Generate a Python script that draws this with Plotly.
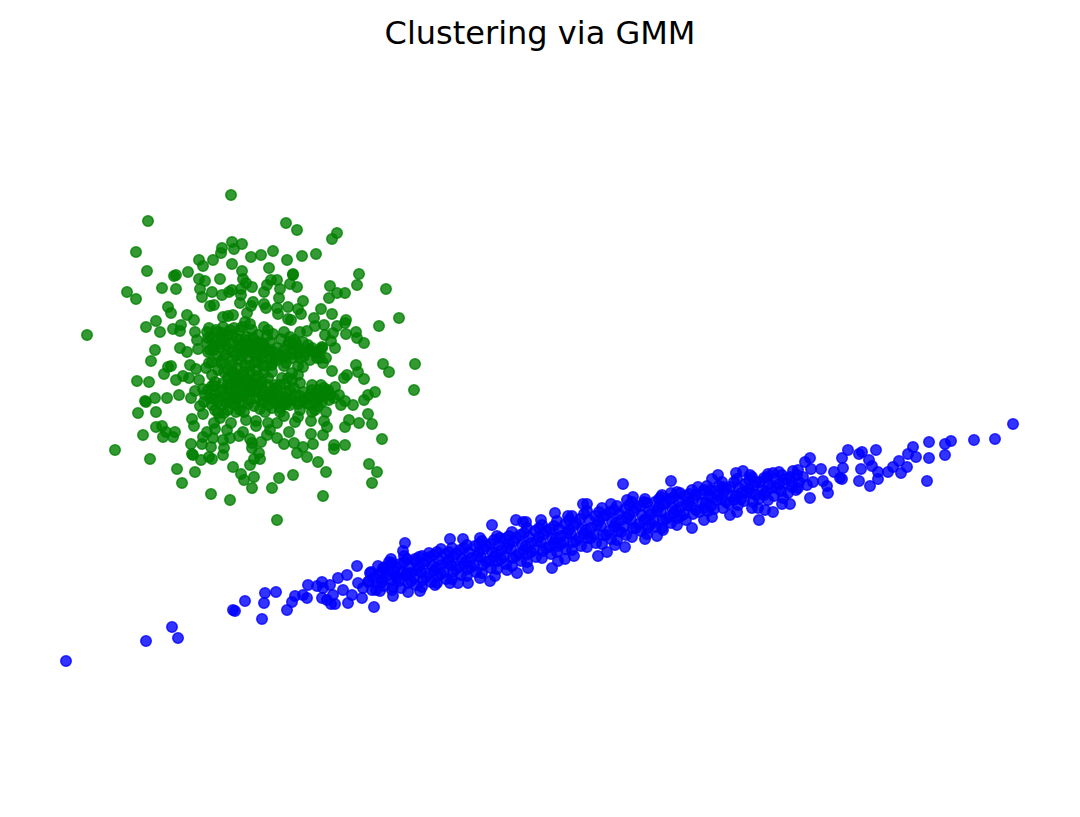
"""
Clustering via GMM: two clusters, values read from the picture.
"""
import plotly.graph_objects as go

green_points = [
    (231, 195), (148, 221), (286, 223), (297, 230), (337, 233), (332, 239), (136, 252), (147, 271),
    (127, 292), (136, 299), (87, 335), (232, 242), (242, 244), (222, 248), (221, 253), (234, 249),
    (199, 260), (203, 266), (213, 260), (232, 264), (251, 257), (261, 255), (273, 251), (287, 260),
    (302, 256), (316, 254), (269, 268), (242, 271), (293, 274), (293, 275), (359, 274), (357, 285),
    (386, 289), (174, 276), (176, 275), (188, 272), (162, 288), (176, 289), (199, 279), (205, 281),
    (220, 279), (200, 289), (202, 297), (212, 292), (222, 295), (229, 292), (232, 290), (241, 289),
    (243, 279), (246, 283), (252, 287), (241, 295), (240, 303), (253, 302), (251, 306), (264, 292),
    (267, 285), (271, 280), (277, 280), (290, 284), (297, 287), (280, 289), (279, 298), (303, 301),
    (330, 286), (329, 298), (337, 293), (345, 293), (210, 306), (214, 305), (264, 304), (266, 308),
    (277, 308), (288, 307), (278, 314), (298, 309), (301, 314), (321, 309), (332, 314), (399, 318),
    (379, 326), (168, 307), (171, 313), (187, 315), (194, 320), (156, 321), (146, 327), (160, 332),
    (173, 329), (181, 325), (180, 331), (195, 332), (197, 340), (198, 349), (180, 348), (187, 352),
    (155, 350), (223, 317), (228, 316), (233, 315), (247, 313), (245, 322), (250, 324), (242, 327),
    (209, 328), (216, 330), (223, 327), (264, 327), (268, 330), (267, 336), (273, 334), (284, 332),
    (281, 339), (288, 319), (291, 320), (314, 318), (315, 326), (324, 325), (337, 326), (346, 320),
    (345, 323), (307, 331), (300, 332), (290, 337), (325, 335), (333, 333), (346, 334), (356, 332),
    (357, 338), (364, 343), (331, 341), (335, 348), (322, 347), (303, 342), (293, 345), (310, 350),
    (317, 353), (298, 354), (277, 348), (270, 350), (257, 343), (262, 348), (247, 337), (253, 338),
    (245, 348), (238, 345), (232, 335), (223, 337), (215, 342), (207, 343), (208, 352), (220, 347),
    (232, 352), (255, 355), (151, 361), (171, 366), (168, 367), (164, 374), (137, 381), (149, 382),
    (176, 380), (183, 376), (190, 365), (196, 369), (189, 378), (199, 380), (209, 363), (221, 363),
    (215, 382), (224, 372), (223, 383), (233, 372), (195, 391), (203, 389), (179, 395), (167, 398),
    (155, 398), (145, 401), (146, 402), (191, 398), (156, 412), (138, 413), (200, 406), (203, 414),
    (192, 419), (194, 426), (156, 427), (162, 426), (166, 432), (163, 437), (175, 432), (173, 437),
    (143, 435), (115, 450), (150, 459), (177, 469), (195, 472), (182, 483), (211, 494), (230, 500),
    (277, 520), (323, 496), (372, 483), (377, 472), (369, 464), (326, 472), (318, 462), (307, 457),
    (293, 475), (279, 478), (272, 488), (252, 488), (254, 477), (244, 480), (241, 474), (233, 467),
    (250, 465), (260, 459), (259, 453), (254, 459), (223, 455), (212, 459), (201, 460), (209, 457),
    (193, 455), (192, 454), (191, 444), (202, 444), (211, 447), (213, 438), (203, 437), (207, 432),
    (215, 429), (214, 423), (220, 418), (218, 413), (224, 413), (231, 423), (227, 430), (230, 438),
    (223, 440), (224, 448), (239, 436), (243, 432), (250, 439), (252, 443), (252, 448), (261, 442),
    (246, 420), (256, 421), (256, 426), (268, 423), (277, 423), (270, 430), (267, 435), (277, 438),
    (289, 432), (284, 444), (294, 443), (297, 453), (303, 447), (313, 444), (311, 434), (323, 435),
    (311, 421), (295, 422), (298, 417), (284, 416), (260, 409), (324, 421), (327, 427), (326, 412),
    (315, 410), (345, 445), (334, 445), (334, 449), (382, 439), (345, 427), (349, 420), (359, 423),
    (372, 424), (368, 414), (353, 405), (341, 405), (345, 401), (339, 395), (364, 400), (368, 395),
    (375, 392), (329, 400), (335, 387), (321, 385), (312, 385), (347, 375), (344, 378), (364, 379),
    (358, 372), (356, 365), (332, 371), (383, 364), (389, 372), (415, 364), (414, 390), (303, 367),
    (323, 363), (317, 358), (286, 363), (272, 365), (292, 373), (298, 375), (285, 384), (300, 383),
    (264, 373), (268, 378), (240, 360), (245, 365), (250, 372), (255, 378), (235, 378), (228, 385),
    (240, 385), (246, 392), (255, 390), (262, 395), (270, 392), (278, 397), (285, 398), (290, 405),
    (300, 402), (308, 398), (318, 398), (325, 392), (330, 395), (315, 395), (322, 402), (310, 405),
    (295, 395), (283, 405), (275, 403), (268, 405), (262, 402), (250, 400), (243, 403), (232, 398),
    (225, 396), (215, 395), (210, 398), (218, 402), (205, 395), (235, 405), (228, 410), (240, 410),
    (245, 350), (255, 362), (262, 355), (240, 340), (232, 360), (225, 355), (212, 362), (262, 365),
    (250, 352), (272, 358), (280, 355), (292, 358), (300, 350), (310, 360), (260, 385), (275, 385),
    (290, 390), (228, 370), (236, 390), (248, 380), (265, 412), (280, 412), (215, 410), (300, 410),
    (312, 412),
    # dichter Kern
    (208, 390), (214, 399), (220, 392), (226, 402), (232, 392), (238, 398), (244, 395), (250, 392),
    (256, 398), (262, 388), (268, 398), (274, 392), (280, 402), (286, 392), (292, 400), (298, 404),
    (304, 392), (310, 395), (316, 402), (322, 396), (328, 390), (334, 398), (274, 399), (286, 404),
    (304, 400), (318, 390), (212, 386), (222, 390), (230, 403), (244, 388), (232, 365), (238, 368),
    (244, 372), (250, 366), (256, 370), (236, 355), (242, 356), (248, 358), (254, 352), (258, 362),
    (238, 376), (244, 380), (252, 384), (258, 376), (262, 382), (234, 384), (228, 378), (250, 345),
    (258, 342), (226, 345), (218, 356), (210, 350), (214, 346), (222, 360), (264, 345), (270, 342),
    (274, 352), (286, 355), (294, 350), (304, 356), (312, 348), (320, 350), (326, 358), (288, 345),
    (296, 343), (240, 330), (234, 328), (228, 335), (252, 330), (258, 335), (246, 343),
    (207, 332), (212, 338), (218, 332), (224, 340), (230, 330), (214, 350), (220, 344), (232, 343),
    (228, 350), (208, 338), (236, 338), (222, 333), (240, 346), (246, 340), (252, 345), (258, 350),
    (264, 352), (248, 350), (255, 346), (262, 358), (240, 350), (262, 343), (270, 352), (276, 360),
    (282, 358), (272, 363), (284, 350), (289, 342), (294, 340), (298, 348), (292, 354), (300, 358),
    (305, 352), (308, 345), (314, 352), (320, 358), (322, 348), (232, 375), (238, 382), (244, 376),
    (250, 388), (256, 384), (240, 394), (230, 388), (248, 404), (254, 406), (236, 400), (228, 398),
    (258, 392), (264, 400), (270, 395), (276, 388), (282, 396), (288, 400), (294, 388), (300, 396),
    (306, 403), (312, 390), (318, 406), (324, 388), (280, 408), (272, 408), (244, 412), (222, 405),
    (236, 412), (212, 405), (204, 402), (266, 366), (272, 372), (282, 378), (288, 378), (292, 380),
    (298, 366), (284, 366), (218, 370), (212, 375), (206, 368), (214, 386), (268, 385), (280, 385),
]

blue_points = [
    (66, 661), (146, 641), (172, 627), (178, 638), (233, 610), (235, 611), (245, 601), (262, 619),
    (264, 603), (265, 593), (276, 592), (287, 610), (292, 602), (295, 596), (303, 595), (307, 598),
    (308, 585), (317, 586), (322, 582), (323, 588), (330, 585), (322, 598), (327, 600), (331, 604),
    (335, 604), (333, 595), (338, 578), (347, 575), (343, 590), (348, 603), (352, 595), (362, 598),
    (374, 607), (376, 590), (363, 588), (358, 583), (357, 566), (370, 573), (368, 582), (383, 568),
    (382, 580), (391, 559), (403, 551), (405, 543), (393, 596), (392, 590), (397, 578), (407, 573),
    (408, 592), (450, 539), (492, 525), (516, 520), (523, 522), (526, 522), (541, 520), (555, 513),
    (568, 516), (583, 504), (587, 504), (611, 504), (623, 484), (671, 481), (441, 549), (429, 553),
    (415, 559), (463, 539), (480, 538), (500, 538), (552, 568), (574, 556), (565, 559), (558, 561),
    (517, 573), (528, 568), (507, 570), (490, 581), (495, 576), (480, 578), (468, 583), (458, 583),
    (450, 583), (435, 585), (420, 591), (598, 556), (607, 552), (625, 547), (615, 545), (645, 539),
    (657, 536), (627, 500), (633, 497), (645, 499), (661, 497), (671, 493), (1013, 424), (995, 439),
    (974, 440), (951, 441), (945, 444), (945, 455), (929, 442), (929, 458), (927, 481), (913, 447),
    (908, 454), (916, 457), (907, 467), (899, 461), (893, 467), (901, 473), (888, 472), (876, 450),
    (878, 472), (878, 479), (870, 486), (859, 481), (861, 469), (872, 466), (869, 460), (862, 452),
    (859, 454), (848, 450), (842, 458), (843, 468), (834, 472), (842, 479), (840, 478), (828, 493),
    (827, 486), (823, 481), (821, 469), (810, 458), (805, 462), (811, 469), (793, 471), (798, 470),
    (810, 498), (798, 488), (807, 485), (813, 482), (803, 477), (790, 504), (782, 504), (788, 493),
    (792, 482), (779, 472), (768, 474), (773, 473), (773, 512), (765, 510), (758, 508), (752, 508),
    (759, 520), (750, 475), (743, 471), (736, 473), (718, 475), (712, 479), (723, 487), (698, 487),
    (680, 493), (710, 490), (692, 528), (704, 520), (712, 517), (730, 515), (737, 512), (677, 525),
    (663, 530),
    # dichter Kern des Bandes
    (371, 572), (369, 581), (372, 590), (385, 567), (387, 576), (384, 586), (400, 564), (402, 572),
    (399, 581), (401, 588), (415, 561), (417, 570), (414, 578), (416, 585), (430, 557), (432, 566),
    (429, 574), (431, 582), (445, 554), (447, 563), (444, 572), (446, 579), (460, 550), (462, 559),
    (459, 567), (461, 575), (475, 546), (477, 556), (474, 565), (476, 572), (490, 544), (492, 552),
    (489, 561), (491, 568), (505, 539), (507, 548), (504, 557), (506, 564), (520, 535), (522, 545),
    (519, 554), (521, 561), (535, 531), (537, 541), (534, 550), (536, 557), (550, 529), (552, 538),
    (549, 547), (551, 554), (565, 524), (567, 533), (564, 542), (566, 549), (580, 519), (582, 529),
    (579, 538), (581, 546), (595, 516), (597, 525), (594, 535), (596, 543), (610, 512), (612, 522),
    (609, 531), (611, 539), (625, 509), (627, 518), (624, 527), (626, 535), (640, 506), (642, 515),
    (639, 524), (641, 531), (655, 502), (657, 511), (654, 521), (656, 527), (670, 499), (672, 508),
    (669, 517), (671, 523), (685, 496), (687, 505), (684, 514), (686, 520), (700, 494), (702, 503),
    (699, 512), (715, 491), (717, 500), (714, 509), (730, 487), (732, 496), (729, 504), (745, 484),
    (747, 492), (744, 501), (760, 482), (762, 490), (759, 499), (775, 479), (777, 488), (774, 496),
    (790, 477), (792, 487),
    (378, 566), (379, 574), (377, 583), (380, 591), (392, 563), (394, 571), (391, 580), (393, 587),
    (407, 559), (409, 567), (406, 575), (408, 583), (422, 556), (424, 564), (421, 572), (423, 580),
    (422, 587), (437, 552), (439, 560), (436, 568), (438, 576), (437, 583), (452, 548), (454, 557),
    (451, 565), (453, 572), (452, 579), (467, 545), (469, 553), (466, 561), (468, 569), (467, 576),
    (482, 541), (484, 549), (481, 557), (483, 565), (482, 573), (497, 536), (499, 545), (496, 553),
    (498, 561), (497, 569), (512, 532), (514, 541), (511, 549), (513, 558), (512, 566), (527, 528),
    (529, 537), (526, 546), (528, 554), (527, 562), (542, 525), (544, 534), (541, 542), (543, 551),
    (542, 558), (557, 521), (559, 529), (556, 538), (558, 546), (557, 552), (572, 516), (574, 525),
    (571, 534), (573, 542), (572, 550), (587, 511), (589, 520), (586, 530), (588, 538), (587, 547),
    (602, 508), (604, 516), (601, 526), (603, 535), (602, 544), (617, 506), (619, 514), (616, 523),
    (618, 531), (617, 540), (632, 502), (634, 511), (631, 520), (633, 528), (632, 537), (647, 503),
    (649, 511), (646, 519), (648, 528), (647, 534), (662, 495), (664, 504), (661, 512), (663, 520),
    (662, 528), (677, 492), (679, 501), (676, 510), (678, 518), (692, 490), (694, 498), (691, 506),
    (693, 514), (707, 486), (709, 495), (706, 503), (708, 511), (722, 482), (724, 491), (721, 499),
    (723, 508), (737, 479), (739, 488), (736, 496), (738, 505), (752, 477), (754, 485), (751, 493),
    (753, 502), (767, 477), (769, 484), (766, 492), (768, 500), (782, 475), (784, 483), (781, 491),
    (783, 498), (797, 475), (799, 482), (796, 490),
    (374, 578), (382, 573), (389, 570), (396, 567), (404, 562), (411, 573), (419, 567), (426, 561),
    (434, 571), (441, 565), (449, 560), (456, 554), (464, 564), (471, 558), (479, 552), (486, 546),
    (494, 557), (501, 550), (509, 544), (516, 538), (524, 550), (531, 543), (539, 537), (546, 531),
    (554, 543), (561, 536), (569, 530), (576, 523), (584, 534), (591, 528), (599, 521), (606, 515),
    (614, 527), (621, 520), (629, 515), (636, 508), (644, 520), (651, 514), (659, 507), (666, 503),
    (674, 513), (681, 507), (689, 502), (696, 495), (704, 508), (711, 498), (719, 495), (726, 489),
    (734, 500), (741, 493), (749, 489), (756, 482), (764, 495), (771, 488), (779, 484), (786, 479),
    (382, 582), (396, 576), (411, 581), (426, 577), (441, 574), (456, 569), (471, 567), (486, 562),
    (501, 559), (516, 556), (531, 552), (546, 548), (561, 544), (576, 541), (591, 538), (606, 535),
    (621, 532), (636, 528), (651, 524), (666, 519), (681, 516), (696, 510), (711, 506), (726, 502),
    (741, 499), (756, 495), (389, 562), (404, 556), (419, 557), (434, 555), (449, 552), (464, 548),
    (479, 544), (494, 540), (509, 536), (524, 533), (539, 528), (554, 526), (569, 520), (584, 514),
    (599, 512), (614, 510), (629, 505), (644, 502), (659, 499), (674, 497), (689, 494), (704, 490),
    (719, 486), (734, 482), (749, 480), (764, 478),
]

green_x = [p[0] for p in green_points]
green_y = [p[1] for p in green_points]
blue_x = [p[0] for p in blue_points]
blue_y = [p[1] for p in blue_points]

fig = go.Figure()

fig.add_trace(go.Scatter(
    x=green_x, y=green_y,
    mode='markers',
    marker=dict(size=10.5, color='rgba(0,128,0,0.8)', line=dict(color='rgba(0,128,0,0.8)', width=1.5)),
    showlegend=False,
))
fig.add_trace(go.Scatter(
    x=blue_x, y=blue_y,
    mode='markers',
    marker=dict(size=10.5, color='rgba(0,0,255,0.8)', line=dict(color='rgba(0,0,255,0.8)', width=1.5)),
    showlegend=False,
))

# Seite hat 8px Rand, darum Achsen und Titel um 8 verschoben
fig.update_layout(
    title=dict(
        text='Clustering via GMM',
        x=0.4926, xanchor='center', y=0.9694, yanchor='middle',
        font=dict(family='DejaVu Sans', size=32, color='black'),
    ),
    width=1080, height=817,
    margin=dict(t=0, b=0, l=0, r=0),
    paper_bgcolor='white',
    plot_bgcolor='white',
)
fig.update_xaxes(visible=False, range=[8, 1088])
fig.update_yaxes(visible=False, range=[825, 8])

fig.write_html("out.html")
